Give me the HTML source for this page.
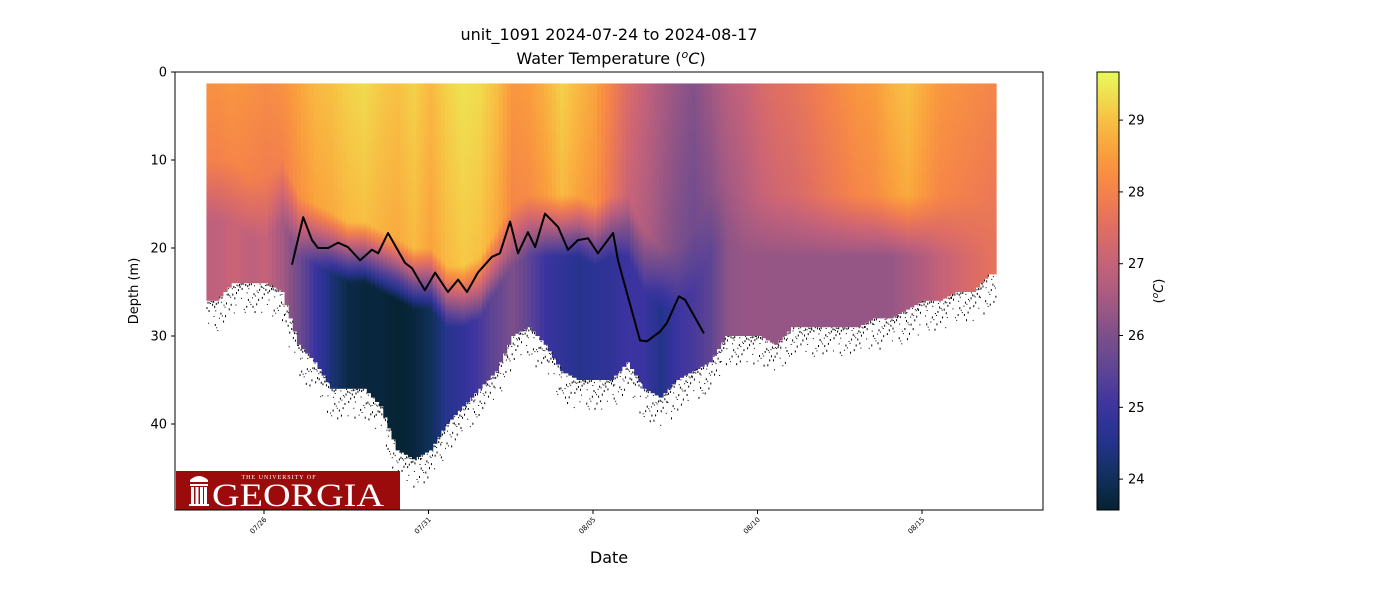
<!DOCTYPE html>
<html><head><meta charset="utf-8"><style>
body{margin:0;background:#fff;}
svg text{font-family:"DejaVu Sans","Liberation Sans",sans-serif;}
svg text.serif{font-family:"Liberation Serif","DejaVu Serif",serif;}
</style></head><body>
<svg id="chart" width="1400" height="600" viewBox="0 0 1400 600" xmlns="http://www.w3.org/2000/svg">
<defs><clipPath id="plotclip"><rect x="175" y="72" width="868" height="438"/></clipPath>
<linearGradient id="cbgrad" x1="0" y1="1" x2="0" y2="0"></linearGradient></defs>
<rect width="1400" height="600" fill="#fff"/>
<text x="609" y="40" font-size="16" text-anchor="middle">unit_1091 2024-07-24 to 2024-08-17</text>
<text x="611" y="64" font-size="16" text-anchor="middle">Water Temperature (<tspan font-style="italic" font-size="11" dy="-6">o</tspan><tspan font-style="italic" dy="6">C</tspan>)</text>
<g id="cols" clip-path="url(#plotclip)"></g>
<g id="specks" clip-path="url(#plotclip)"></g>
<path id="thermo" fill="none" stroke="#000" stroke-width="2" stroke-linejoin="round"/>
<g>
<rect x="176" y="471" width="224" height="39" fill="#9b0b0b"/>
<text class="serif" x="279" y="479" font-size="6" fill="#fff" text-anchor="middle" letter-spacing="1">THE UNIVERSITY OF</text>
<path d="M190 480 q9 -8 18 0 v2 h-18z M190 484 h18 v2 h-18z M191 487 h3 v17 h-3z M195.5 487 h3 v17 h-3z M200 487 h3 v17 h-3z M204 487 h3 v17 h-3z M189 504 h20 v2 h-20z" fill="#fff"/>
<text class="serif" x="212" y="506" font-size="33" fill="#fff" textLength="172" lengthAdjust="spacingAndGlyphs">GEORGIA</text>
</g>
<rect x="175" y="72" width="868" height="438" fill="none" stroke="#000" stroke-width="1"/>
<g id="yaxis"></g>
<g id="xaxis"></g>
<text transform="translate(138,291) rotate(-90)" font-size="13" text-anchor="middle">Depth (m)</text>
<text x="609" y="563" font-size="16" text-anchor="middle">Date</text>
<rect x="1097" y="72" width="22" height="438" fill="url(#cbgrad)" stroke="#000" stroke-width="1"/>
<g id="cbaxis"></g>
<text transform="translate(1163,291) rotate(-90)" font-size="13" text-anchor="middle">(<tspan font-style="italic" font-size="9" dy="-5">o</tspan><tspan font-style="italic" dy="5">C</tspan>)</text>
</svg>
<script>
// ---- data (days relative to 07/26 00:00) ----
const colDays=[-1.5,-1,-0.5,0,0.5,1,1.5,2,2.5,3,3.5,4,4.5,5,5.5,6,6.5,7,7.5,8,8.5,9,9.5,10,10.5,11,11.5,12,12.5,13,13.5,14,14.5,15,15.5,16,16.5,17,17.5,18,18.5,19,19.5,20,20.5,21,21.5,22];
const maxDepth=[26,24,24,24,25,31,33,36,36,36,38,43,44,43,40,38,36,34,30,29,31,34,35,35,35,33,36,37,35,34,33,30,30,30,31,29,29,29,29,29,28,28,27,26,26,25,25,23];
const surfTemp=[28.3,28.4,28.3,28.2,28.3,28.6,28.9,29.0,29.2,29.3,29.1,29.0,29.2,28.9,29.2,29.4,29.3,29.0,28.4,28.5,28.8,29.2,28.9,28.6,28.0,27.4,27.0,26.6,26.3,26.1,26.4,26.8,27.0,27.3,27.5,27.6,27.8,28.0,28.2,28.4,28.5,28.8,29.0,28.7,28.4,28.3,28.2,28.1];
const bottomTemp=[26.9,27.1,26.9,27.0,26.5,25.8,25.0,24.3,23.8,23.7,23.7,23.6,23.7,24.0,24.6,24.8,25.2,25.6,26.0,25.5,25.0,24.8,24.6,24.7,24.8,25.0,25.0,24.5,25.0,25.2,25.5,26.2,26.3,26.3,26.3,26.3,26.3,26.3,26.3,26.3,26.3,26.3,26.5,26.7,27.0,27.2,27.4,27.6];
const thermoDepth=[10,10,12,12,10,14,15,16,17,17,18,19,20,20,22,22,21,18,15,14,14,14,14,15,14,14,18,20,20,18,14,12,14,14,14,14,14,14,14,14,14,14,14,14,14,14,14,14];
const lineDays=[0.85,1.19,1.46,1.64,1.95,2.25,2.55,2.92,3.28,3.47,3.77,4.29,4.50,4.89,5.20,5.59,5.90,6.17,6.50,6.93,7.17,7.48,7.72,8.02,8.24,8.54,8.94,9.24,9.54,9.85,10.15,10.61,10.76,11.03,11.43,11.64,12.04,12.25,12.61,12.80,13.37];
const lineDepth=[21.9,16.5,19.1,20,20,19.4,19.9,21.4,20.2,20.6,18.3,21.7,22.3,24.8,22.8,25,23.6,25,22.8,21,20.6,17,20.6,18.2,19.9,16.1,17.6,20.2,19.1,18.9,20.6,18.3,21.4,25.1,30.5,30.6,29.5,28.5,25.5,25.9,29.7];
const yTicks=[0,10,20,30,40];
const xTickDays=[0,5,10,15,20];
const xTickLabels=["07/26","07/31","08/05","08/10","08/15"];
const cbTicks=[24,25,26,27,28,29];
const tMin=23.57,tMax=29.67;
// ---- scales ----
const X=d=>264+d*32.9;
const Y=m=>72+m*8.8;
const CBY=t=>510-(t-tMin)/(tMax-tMin)*438;
const cmap=[[23.57,[5,34,48]],[24.0,[16,48,90]],[24.5,[35,51,138]],[25.0,[58,51,160]],[25.5,[93,68,149]],[26.0,[124,79,138]],[26.5,[165,90,130]],[27.0,[197,98,122]],[27.5,[224,110,98]],[28.0,[244,129,75]],[28.5,[250,156,60]],[29.0,[248,192,67]],[29.67,[232,250,91]]];
function color(t){t=Math.max(tMin,Math.min(tMax,t));for(let i=1;i<cmap.length;i++){if(t<=cmap[i][0]){const a=cmap[i-1],b=cmap[i],f=(t-a[0])/(b[0]-a[0]);return 'rgb('+a[1].map((v,k)=>Math.round(v+(b[1][k]-v)*f)).join(',')+')';}}return 'rgb(232,250,91)';}
const NS='http://www.w3.org/2000/svg';
const svg=document.getElementById('chart');const defs=svg.querySelector('defs');
function mk(tag,attrs,parent){const e=document.createElementNS(NS,tag);for(const k in attrs)e.setAttribute(k,attrs[k]);parent.appendChild(e);return e;}
const cbg=document.getElementById('cbgrad');
for(let i=0;i<=20;i++){const t=tMin+(tMax-tMin)*i/20;mk('stop',{offset:(i/20),'stop-color':color(t)},cbg);}
const cols=document.getElementById('cols');const specks=document.getElementById('specks');
const step=0.5,sub=4,sw=step/sub;
function lerpArr(a,i,f){const j=Math.min(i+1,a.length-1);return a[i]+(a[j]-a[i])*f;}
let gi=0;
colDays.forEach((d,i)=>{
  for(let s=0;s<sub;s++){
    const f=s/sub;
    const dd=d-step/2+(s+0.5)*sw;
    const ff=f-0.5; let ii=i,fr=ff; if(ff<0){ii=Math.max(0,i-1);fr=i===0?0:1+ff;}
    const bot=lerpArr(maxDepth,ii,fr),sT=lerpArr(surfTemp,ii,fr),bT=lerpArr(bottomTemp,ii,fr),tdp=lerpArr(thermoDepth,ii,fr);
    const gid='g'+(gi++);const g=mk('linearGradient',{id:gid,x1:0,y1:0,x2:0,y2:1},defs);
    const top=1.3,span=bot-top;
    const td=Math.min(tdp,bot-2),te=Math.min(td+7,bot);
    const stops=[[top,sT]];
    for(let k=0;k<=6;k++){const q=k/6;stops.push([td+(te-td)*q,(sT-0.3)+(bT-(sT-0.3))*q]);}
    stops.push([bot,bT]);
    stops.forEach(p=>mk('stop',{offset:Math.max(0,Math.min(1,(p[0]-top)/span)),'stop-color':color(p[1])},g));
    const r=mk('rect',{x:X(dd-sw/2),y:Y(top),width:sw*32.9+0.6,height:Y(bot)-Y(top),fill:'url(#'+gid+')'},cols);
    
    
    for(let k=0;k<6;k++){const h=((gi*37+k*61)%97)/97,h2=((gi*71+k*43+k*k*7)%83)/83;
      const sp=mk('rect',{x:X(dd-sw/2)+h*4,y:Y(bot)+h2*h2*30,width:1,height:1+(k%2),fill:'#000'},specks);
      
      }
  }
});
document.getElementById('thermo').setAttribute('d',lineDays.map((d,i)=>(i?'L':'M')+X(d).toFixed(1)+' '+Y(lineDepth[i]).toFixed(1)).join(' '));
const ya=document.getElementById('yaxis');
yTicks.forEach(v=>{mk('line',{x1:171,x2:175,y1:Y(v),y2:Y(v),stroke:'#000'},ya);
  const t=mk('text',{x:167,y:Y(v)+4.5,'font-size':13,'text-anchor':'end'},ya);t.textContent=v;
  
  });
const xa=document.getElementById('xaxis');
xTickDays.forEach((d,i)=>{mk('line',{x1:X(d),x2:X(d),y1:510,y2:514,stroke:'#000'},xa);
  const t=mk('text',{transform:'translate('+(X(d)+3)+',520) rotate(-45)','font-size':7,'text-anchor':'end'},xa);t.textContent=xTickLabels[i];
  
  });
const ca=document.getElementById('cbaxis');
cbTicks.forEach(v=>{mk('line',{x1:1119,x2:1123,y1:CBY(v),y2:CBY(v),stroke:'#000'},ca);
  const t=mk('text',{x:1128,y:CBY(v)+4.5,'font-size':13},ca);t.textContent=v;
  
  });
</script>
</body></html>
